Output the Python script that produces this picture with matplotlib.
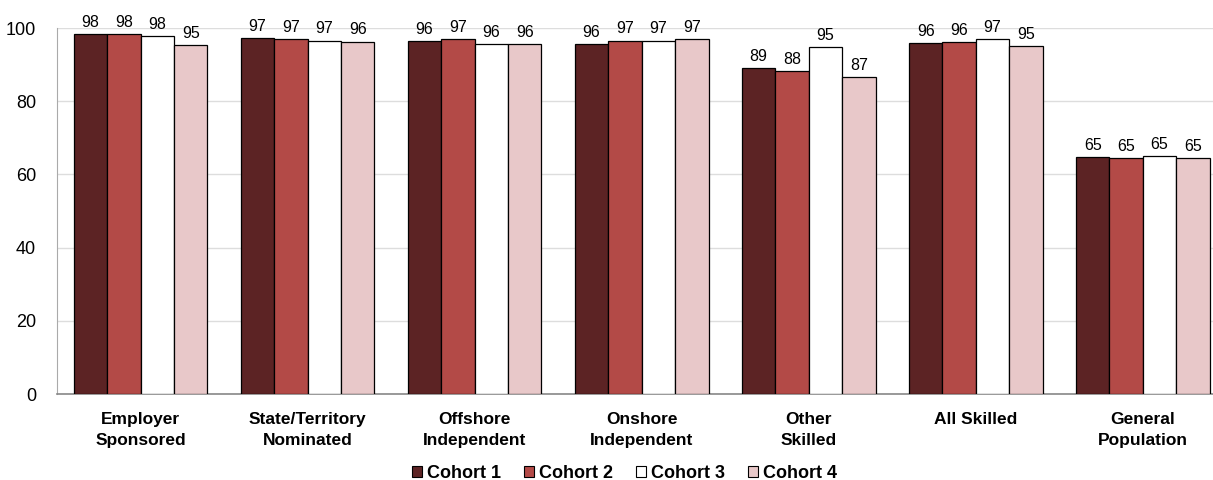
import numpy as np
import matplotlib
matplotlib.use("Agg")
import matplotlib.pyplot as plt
from matplotlib import font_manager
from matplotlib.patches import Patch

categories = ["Employer\nSponsored", "State/Territory\nNominated", "Offshore\nIndependent",
              "Onshore\nIndependent", "Other\nSkilled", "All Skilled", "General\nPopulation"]
series_names = ["Cohort 1", "Cohort 2", "Cohort 3", "Cohort 4"]
cohort1 = [98.3, 97.2, 96.4, 95.6, 89.1, 95.9, 64.8]
cohort2 = [98.4, 96.9, 97.0, 96.6, 88.3, 96.2, 64.5]
cohort3 = [97.9, 96.6, 95.6, 96.6, 94.8, 96.9, 65.1]
cohort4 = [95.3, 96.3, 95.6, 97.0, 86.6, 95.1, 64.5]
yticks = [0, 20, 40, 60, 80, 100]

colors = ["#5C2324", "#B34A47", "#FFFFFF", "#E8C8C9"]

installed = {f.name for f in font_manager.fontManager.ttflist}
base_font = "Liberation Sans" if "Liberation Sans" in installed else "DejaVu Sans"
narrow_font = "Liberation Sans Narrow" if "Liberation Sans Narrow" in installed else base_font
plt.rcParams["font.family"] = [base_font, "DejaVu Sans"]

fig = plt.figure(figsize=(12.13, 4.80), dpi=100)
ax = fig.add_axes([0.047, 0.179, 0.953, 0.7625])

x = np.arange(len(categories))
width = 0.2
all_series = [cohort1, cohort2, cohort3, cohort4]
for i, (vals, name, c) in enumerate(zip(all_series, series_names, colors)):
    pos = x + (i - 1.5) * width
    bars = ax.bar(pos, vals, width, color=c, edgecolor="black", linewidth=0.9,
                  label=name, zorder=3)
    for b, v in zip(bars, vals):
        ax.annotate(f"{int(v + 0.5)}", (b.get_x() + b.get_width() / 2, v),
                    xytext=(0, 3), textcoords="offset points",
                    ha="center", va="bottom", fontsize=11.5,
                    family=narrow_font, annotation_clip=False, zorder=4)

ax.set_xlim(-0.5, 6.42)
ax.set_ylim(0, 100)
ax.set_yticks(yticks)
ax.tick_params(axis="y", length=0, labelsize=13, pad=15)
ax.tick_params(axis="x", length=0, pad=13)
ax.set_xticks(x)
ax.set_xticklabels(categories, fontsize=12.5, fontweight="bold", linespacing=1.5)
ax.yaxis.grid(True, color="#DDDDDD", linewidth=1, zorder=0)
ax.set_axisbelow(True)
for s in ["top", "right"]:
    ax.spines[s].set_visible(False)
ax.spines["left"].set_color("#AAAAAA")
ax.spines["bottom"].set_color("#888888")
ax.spines["bottom"].set_linewidth(1.2)

handles = [Patch(facecolor=c, edgecolor="black", linewidth=0.8) for c in colors]
leg = fig.legend(handles, series_names, loc="center", bbox_to_anchor=(0.515, 0.014),
                 ncol=4, frameon=False, prop={"weight": "bold", "size": 13},
                 handlelength=0.55, handleheight=0.55, handletextpad=0.3,
                 columnspacing=1.25, borderpad=0)

fig.savefig("out.png", dpi=100)
